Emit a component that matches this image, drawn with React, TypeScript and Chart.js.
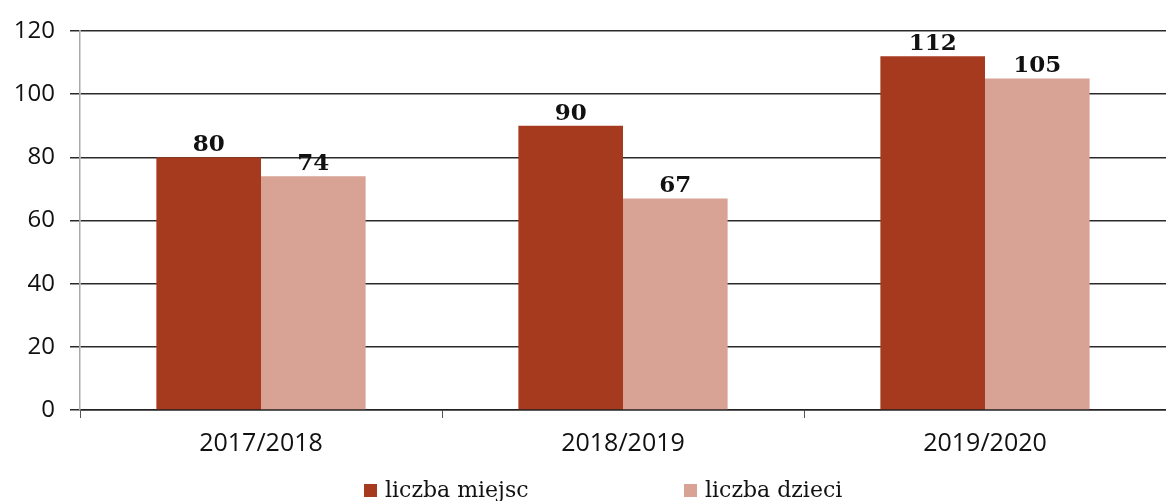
import React, { useEffect, useRef } from "react";
import { Chart, registerables } from "chart.js";

Chart.register(...registerables);

const categories = ["2017/2018", "2018/2019", "2019/2020"];
const liczbaMiejsc = [80, 90, 112];
const liczbaDzieci = [74, 67, 105];
const seriesLabels = ["liczba miejsc", "liczba dzieci"];
const seriesColors = ["#A63A1F", "#D8A294"];
const yMin = 0;
const yMax = 120;
const yStep = 20;

const valueLabels = {
  id: "valueLabels",
  afterDatasetsDraw(chart: any) {
    const ctx = chart.ctx;
    ctx.save();
    ctx.font = "bold 23px 'DejaVu Serif'";
    ctx.fillStyle = "#111";
    ctx.textAlign = "center";
    ctx.textBaseline = "alphabetic";
    chart.data.datasets.forEach((ds: any, i: number) => {
      const meta = chart.getDatasetMeta(i);
      meta.data.forEach((el: any, j: number) => {
        ctx.fillText(String(ds.data[j]), el.x, el.y - 6);
      });
    });
    ctx.restore();
  },
};

const legendLayout = [
  { x: 364, box: 13 },
  { x: 684, box: 13 },
];

const customLegend = {
  id: "customLegend",
  afterDraw(chart: any) {
    const ctx = chart.ctx;
    ctx.save();
    ctx.font = "22px 'DejaVu Serif'";
    ctx.textBaseline = "alphabetic";
    chart.data.datasets.forEach((ds: any, i: number) => {
      const it = legendLayout[i];
      ctx.fillStyle = ds.backgroundColor;
      ctx.fillRect(it.x, 497 - it.box, it.box, it.box);
      ctx.fillStyle = "#111";
      ctx.fillText(ds.label, it.x + it.box + 8, 497);
    });
    ctx.restore();
  },
};

export default function App() {
  const ref = useRef<HTMLCanvasElement | null>(null);
  useEffect(() => {
    if (!ref.current) return;
    const chart = new Chart(ref.current, {
      type: "bar",
      data: {
        labels: categories,
        datasets: [
          {
            label: seriesLabels[0],
            data: liczbaMiejsc,
            backgroundColor: seriesColors[0],
            categoryPercentage: 0.578,
            barPercentage: 1,
          },
          {
            label: seriesLabels[1],
            data: liczbaDzieci,
            backgroundColor: seriesColors[1],
            categoryPercentage: 0.578,
            barPercentage: 1,
          },
        ],
      },
      options: {
        responsive: false,
        animation: false,
        layout: { padding: { top: 31, right: 0, bottom: 0, left: 0 } },
        plugins: {
          legend: { display: false },
          tooltip: { enabled: false },
        },
        scales: {
          x: {
            offset: true,
            grid: {
              display: true,
              drawOnChartArea: false,
              drawTicks: true,
              tickLength: 8,
              color: "#555",
              offset: true,
            },
            border: { display: true, color: "#222", width: 1.5 },
            ticks: {
              color: "#111",
              font: { family: "'Open Sans'", size: 25 },
              padding: 11,
            },
            afterFit(scale: any) {
              scale.height = 91;
            },
          },
          y: {
            min: yMin,
            max: yMax,
            ticks: {
              stepSize: yStep,
              color: "#111",
              font: { family: "'Open Sans'", size: 24 },
              padding: 15,
            },
            grid: {
              color: "#2a2a2a",
              lineWidth: 1.5,
              tickLength: 10,
            },
            border: { display: true, color: "#aaa", width: 1.5 },
            afterFit(scale: any) {
              scale.width = 80;
            },
          },
        },
      },
      plugins: [valueLabels, customLegend],
    });
    return () => chart.destroy();
  }, []);
  return (
    <div style={{ position: "fixed", left: 0, top: 0, width: 1166, height: 501, background: "#fff" }}>
      <canvas ref={ref} width={1166} height={501} style={{ display: "block" }} />
    </div>
  );
}
